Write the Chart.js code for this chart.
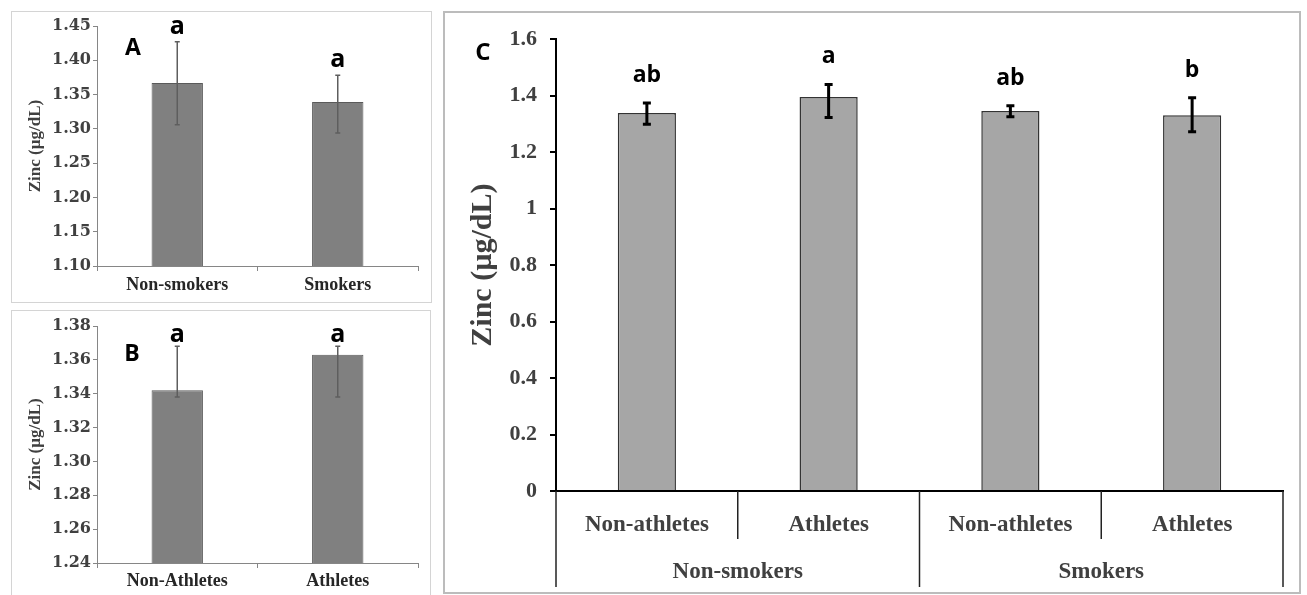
<!DOCTYPE html>
<html>
<head>
<meta charset="utf-8">
<script src="https://cdn.jsdelivr.net/npm/chart.js@4.4.1/dist/chart.umd.min.js"></script>
<style>
  html, body { margin: 0; padding: 0; background: #fff; }
  body { width: 1307px; height: 595px; position: relative; overflow: hidden; }
  .frame { position: absolute; box-sizing: border-box; }
  canvas { position: absolute; }
</style>
</head>
<body>
<div class="frame" style="left:11px;top:11px;width:421px;height:292px;border:1px solid #d4d4d4"></div>
<div class="frame" style="left:11px;top:310px;width:420px;height:300px;border:1px solid #d4d4d4"></div>
<div class="frame" style="left:443px;top:11px;width:858px;height:583px;border:2px solid #bcbcbc"></div>
<canvas id="chartA" width="419" height="290" style="left:12px;top:12px"></canvas>
<canvas id="chartB" width="418" height="284" style="left:12px;top:311px"></canvas>
<canvas id="chartC" width="854" height="578" style="left:445px;top:13px"></canvas>
<script>
// panel A - smoking status
const smokingGroups = ['Non-smokers', 'Smokers'];
const smokingMeans = [1.367, 1.339];
const smokingErrPlus = [0.060, 0.039];
const smokingErrMinus = [0.061, 0.045];
const smokingLetters = ['a', 'a'];

// panel B - athletic status
const athleteGroups = ['Non-Athletes', 'Athletes'];
const athleteMeans = [1.342, 1.363];
const athleteErrPlus = [0.026, 0.005];
const athleteErrMinus = [0.004, 0.025];
const athleteLetters = ['a', 'a'];

// panel C - both factors
const comboGroups = ['Non-athletes', 'Athletes', 'Non-athletes', 'Athletes'];
const comboParents = ['Non-smokers', 'Smokers'];
const comboMeans = [1.339, 1.395, 1.346, 1.331];
const comboErrPlus = [0.035, 0.045, 0.018, 0.062];
const comboErrMinus = [0.040, 0.072, 0.021, 0.059];
const comboLetters = ['ab', 'a', 'ab', 'b'];

const serif = 'Liberation Serif';
const letterFamily = 'Open Sans';

// error bars, significance letters, panel letter, and the grouped axis for C
const extrasPlugin = {
    id: 'extras',
    afterDatasetsDraw(chart, args, opts) {
        const ctx = chart.ctx;
        const ds = chart.data.datasets[0];
        const meta = chart.getDatasetMeta(0);
        const y = chart.scales.y;
        ctx.save();
        meta.data.forEach((bar, i) => {
            const top = y.getPixelForValue(ds.data[i] + ds.errPlus[i]);
            const bot = y.getPixelForValue(ds.data[i] - ds.errMinus[i]);
            ctx.strokeStyle = opts.errColor;
            ctx.lineWidth = opts.errWidth;
            ctx.beginPath();
            ctx.moveTo(bar.x, top);
            ctx.lineTo(bar.x, bot);
            ctx.moveTo(bar.x - opts.cap, top);
            ctx.lineTo(bar.x + opts.cap, top);
            ctx.moveTo(bar.x - opts.cap, bot);
            ctx.lineTo(bar.x + opts.cap, bot);
            ctx.stroke();

            ctx.fillStyle = '#000';
            ctx.font = 'bold ' + opts.letterSize + 'px "' + letterFamily + '"';
            ctx.textAlign = 'center';
            ctx.textBaseline = 'alphabetic';
            ctx.fillText(ds.letters[i], bar.x, top - opts.letterGap);
        });

        const area = chart.chartArea;
        ctx.font = 'bold ' + opts.panelSize + 'px "' + letterFamily + '"';
        ctx.textAlign = 'center';
        ctx.textBaseline = 'middle';
        ctx.fillText(opts.panel, area.left + opts.panelDx, area.top + opts.panelDy);

        if (opts.parents) {
            const xs = chart.scales.x;
            const size = chart.data.labels.length / opts.parents.length;
            ctx.strokeStyle = '#222';
            ctx.lineWidth = 1.5;
            for (let k = 0; k <= chart.data.labels.length; k++) {
                const px = xs.getPixelForValue(k - 0.5);
                const long = k % size === 0;
                ctx.beginPath();
                ctx.moveTo(px, area.bottom);
                ctx.lineTo(px, area.bottom + (long ? 96 : 48));
                ctx.stroke();
            }
            ctx.fillStyle = '#404040';
            ctx.font = 'bold 23px "' + serif + '"';
            opts.parents.forEach((p, g) => {
                const cx = xs.getPixelForValue(g * size + (size - 1) / 2);
                ctx.fillText(p, cx, area.bottom + 81);
            });
        }
        ctx.restore();
    }
};

function smallPanel(id, labels, means, plus, minus, letters, yMin, yMax, step, dims, extras) {
    const axisGrey = '#868686';
    return new Chart(document.getElementById(id), {
        type: 'bar',
        data: {
            labels: labels,
            datasets: [{
                data: means,
                errPlus: plus,
                errMinus: minus,
                letters: letters,
                backgroundColor: '#808080',
                borderColor: '#5a5a5a',
                borderWidth: 1,
                barPercentage: 0.32,
                categoryPercentage: 1
            }]
        },
        options: {
            responsive: false,
            animation: false,
            layout: { padding: { top: dims.top, right: dims.right, left: 0, bottom: 0 } },
            plugins: {
                legend: { display: false },
                tooltip: { enabled: false },
                extras: extras
            },
            scales: {
                x: {
                    afterFit: s => { s.height = dims.xHeight; },
                    grid: { offset: true, drawOnChartArea: false, tickLength: 5, color: axisGrey },
                    border: { color: axisGrey, width: 1 },
                    ticks: {
                        color: '#262626',
                        padding: dims.xPad,
                        font: { family: serif, weight: 'bold', size: 18 }
                    }
                },
                y: {
                    min: yMin,
                    max: yMax,
                    afterFit: s => { s.width = dims.left; },
                    grid: { drawOnChartArea: false, tickLength: 4, color: axisGrey },
                    border: { color: axisGrey, width: 1 },
                    ticks: {
                        stepSize: step,
                        padding: 2,
                        color: '#404040',
                        callback: v => v.toFixed(2),
                        font: { family: 'DejaVu Serif', weight: 'bold', size: 16 }
                    },
                    title: {
                        display: true,
                        text: 'Zinc (µg/dL)',
                        color: '#404040',
                        padding: { top: 13, bottom: 0 },
                        font: { family: serif, weight: 'bold', size: 17 }
                    }
                }
            }
        },
        plugins: [extrasPlugin]
    });
}

smallPanel('chartA', smokingGroups, smokingMeans, smokingErrPlus, smokingErrMinus, smokingLetters,
    1.10, 1.45, 0.05,
    { top: 14, right: 13, left: 85, xHeight: 36, xPad: 4 },
    { errColor: '#5e5e5e', errWidth: 1.5, cap: 2.5, letterSize: 25, letterGap: 8,
      panel: 'A', panelSize: 23, panelDx: 36, panelDy: 22 });

smallPanel('chartB', athleteGroups, athleteMeans, athleteErrPlus, athleteErrMinus, athleteLetters,
    1.24, 1.38, 0.02,
    { top: 15, right: 12, left: 85, xHeight: 32, xPad: 3 },
    { errColor: '#5e5e5e', errWidth: 1.5, cap: 2.5, letterSize: 25, letterGap: 4,
      panel: 'B', panelSize: 23, panelDx: 35, panelDy: 28 });

new Chart(document.getElementById('chartC'), {
    type: 'bar',
    data: {
        labels: comboGroups,
        datasets: [{
            data: comboMeans,
            errPlus: comboErrPlus,
            errMinus: comboErrMinus,
            letters: comboLetters,
            backgroundColor: '#a6a6a6',
            borderColor: '#333333',
            borderWidth: 1.5,
            barPercentage: 0.32,
            categoryPercentage: 1
        }]
    },
    options: {
        responsive: false,
        animation: false,
        layout: { padding: { top: 25, right: 16, left: 0, bottom: 0 } },
        plugins: {
            legend: { display: false },
            tooltip: { enabled: false },
            extras: {
                errColor: '#000', errWidth: 3, cap: 4, letterSize: 23, letterGap: 21,
                panel: 'C', panelSize: 24, panelDx: -73, panelDy: 14,
                parents: comboParents
            }
        },
        scales: {
            x: {
                afterFit: s => { s.height = 100; },
                grid: { display: false, drawTicks: false },
                border: { color: '#000', width: 2 },
                ticks: {
                    color: '#404040',
                    padding: 20,
                    font: { family: serif, weight: 'bold', size: 23 }
                }
            },
            y: {
                min: 0,
                max: 1.6,
                afterFit: s => { s.width = 111; },
                grid: { drawOnChartArea: false, tickLength: 6, color: '#000', lineWidth: 2 },
                border: { color: '#000', width: 2 },
                ticks: {
                    stepSize: 0.2,
                    padding: 13,
                    color: '#404040',
                    callback: v => String(Math.round(v * 10) / 10),
                    font: { family: serif, weight: 'bold', size: 22 }
                },
                title: {
                    display: true,
                    text: 'Zinc (µg/dL)',
                    color: '#404040',
                    padding: { top: 20, bottom: 0 },
                    font: { family: serif, weight: 'bold', size: 30 }
                }
            }
        }
    },
    plugins: [extrasPlugin]
});
</script>
</body>
</html>
